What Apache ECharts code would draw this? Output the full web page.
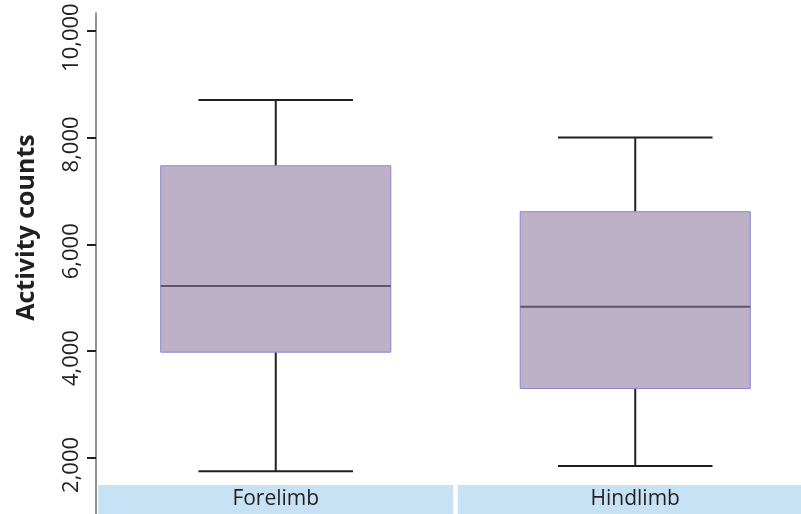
<!DOCTYPE html>
<html>
<head>
<meta charset="utf-8">
<script src="https://cdn.jsdelivr.net/npm/echarts@6/dist/echarts.min.js"></script>
<style>html,body{margin:0;padding:0;background:#fff}#c{width:801px;height:514px}</style>
</head>
<body>
<div id="c"></div>
<script>
var categories = ['Forelimb', 'Hindlimb'];
var whiskerLow = [1750, 1850];
var q1 = [3980, 3300];
var median = [5220, 4830];
var q3 = [7470, 6610];
var whiskerHigh = [8700, 8000];
var tickValues = [2000, 4000, 6000, 8000, 10000];
var tickLabels = ['2,000', '4,000', '6,000', '8,000', '10,000'];

var data = categories.map(function (c, i) {
  return [i, whiskerLow[i], q1[i], median[i], q3[i], whiskerHigh[i]];
});

var chart = echarts.init(document.getElementById('c'), null, {renderer: 'canvas'});
chart.setOption({
  animation: false,
  grid: {left: 96, width: 719, top: 13, bottom: 0, containLabel: false, outerBoundsMode: 'none'},
  xAxis: {
    type: 'category',
    data: categories,
    axisLine: {show: false},
    axisTick: {show: false},
    splitLine: {show: false},
    axisLabel: {
      inside: true,
      margin: 0,
      interval: 0,
      fontFamily: 'Open Sans',
      fontSize: 21,
      color: '#231f20',
      backgroundColor: '#c8e2f5',
      width: 355,
      height: 29,
      lineHeight: 29,
      align: 'center',
      verticalAlign: 'bottom'
    }
  },
  yAxis: {
    type: 'value',
    min: 950,
    max: 10330,
    splitLine: {show: false},
    axisLine: {show: true, lineStyle: {color: '#6d6e71', width: 1.5}},
    axisTick: {show: true, length: 9, customValues: tickValues, lineStyle: {color: '#231f20', width: 2}},
    axisLabel: {
      customValues: tickValues,
      rotate: 90,
      margin: 13,
      padding: [0, 14, 0, 0],
      fontFamily: 'Open Sans',
      fontSize: 22,
      color: '#231f20',
      formatter: function (v) { return tickLabels[tickValues.indexOf(v)]; }
    },
    name: 'Activity counts',
    nameLocation: 'middle',
    nameRotate: 90,
    nameGap: 57,
    nameTextStyle: {fontFamily: 'Open Sans', fontWeight: 'bold', fontSize: 25, color: '#231f20', padding: [0, 0, 0, 72]}
  },
  series: [{
    type: 'custom',
    data: data,
    renderItem: function (params, api) {
      var idx = api.value(0);
      var band = api.size([1, 0])[0];
      var boxW = band * 0.64;
      var capW = band * 0.43;
      var pLow = api.coord([idx, api.value(1)]);
      var pQ1 = api.coord([idx, api.value(2)]);
      var pMed = api.coord([idx, api.value(3)]);
      var pQ3 = api.coord([idx, api.value(4)]);
      var pHigh = api.coord([idx, api.value(5)]);
      var cx = pMed[0];
      var wStyle = {stroke: '#231f20', lineWidth: 2};
      return {
        type: 'group',
        children: [
          {type: 'line', shape: {x1: cx, y1: pHigh[1], x2: cx, y2: pQ3[1]}, style: wStyle},
          {type: 'line', shape: {x1: cx, y1: pQ1[1], x2: cx, y2: pLow[1]}, style: wStyle},
          {type: 'line', shape: {x1: cx - capW / 2, y1: pHigh[1], x2: cx + capW / 2, y2: pHigh[1]}, style: wStyle},
          {type: 'line', shape: {x1: cx - capW / 2, y1: pLow[1], x2: cx + capW / 2, y2: pLow[1]}, style: wStyle},
          {type: 'rect', shape: {x: cx - boxW / 2, y: pQ3[1], width: boxW, height: pQ1[1] - pQ3[1]},
            style: {fill: '#bdb1c7', stroke: '#8c84d4', lineWidth: 1}},
          {type: 'line', shape: {x1: cx - boxW / 2, y1: pMed[1], x2: cx + boxW / 2, y2: pMed[1]},
            style: {stroke: '#5e5566', lineWidth: 2}}
        ]
      };
    }
  }]
});
</script>
</body>
</html>
